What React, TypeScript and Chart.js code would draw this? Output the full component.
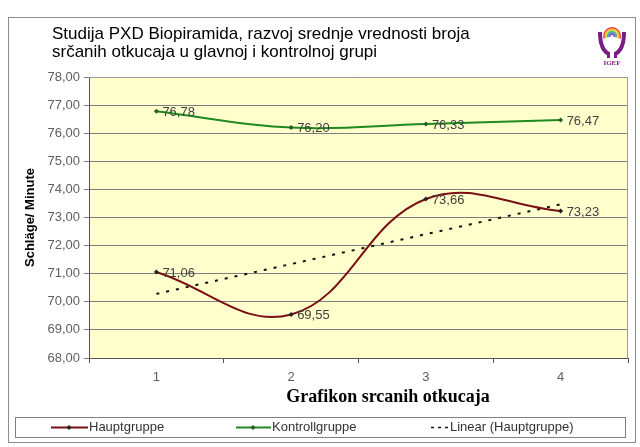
import React, { useEffect, useRef } from 'react';
import { Chart, registerables } from 'chart.js';

Chart.register(...registerables);

const categories = ['1', '2', '3', '4'];
const hauptgruppe = [71.06, 69.55, 73.66, 73.23];
const kontrollgruppe = [76.78, 76.2, 76.33, 76.47];
const yMin = 68;
const yMax = 78;
const yStep = 1;
const titleLines = [
  'Studija PXD Biopiramida, razvoj srednje vrednosti broja',
  'srčanih otkucaja u glavnoj i kontrolnoj grupi',
];
const xTitle = 'Grafikon srcanih otkucaja';
const yTitle = 'Schläge/ Minute';
const seriesNames = ['Hauptgruppe', 'Kontrollgruppe', 'Linear (Hauptgruppe)'];

const HAUPT_COLOR = '#7a0f14';
const KONTROLL_COLOR = '#1f8a1f';
const TREND_COLOR = '#111111';
const SANS = '"Liberation Sans", Arial, sans-serif';
const SERIF = '"Liberation Serif", "Times New Roman", serif';

function linearTrend(values: number[]): number[] {
  const n = values.length;
  const xs = values.map((_, i) => i + 1);
  const mx = xs.reduce((a, b) => a + b, 0) / n;
  const my = values.reduce((a, b) => a + b, 0) / n;
  let num = 0;
  let den = 0;
  xs.forEach((x, i) => {
    num += (x - mx) * (values[i] - my);
    den += (x - mx) * (x - mx);
  });
  const slope = num / den;
  const intercept = my - slope * mx;
  return xs.map((x) => intercept + slope * x);
}

const fmt = (v: number) => v.toFixed(2).replace('.', ',');

const decorPlugin = {
  id: 'decor',
  beforeDraw(chart: any) {
    const { ctx, chartArea: a, width, height } = chart;
    ctx.save();
    ctx.fillStyle = '#ffffff';
    ctx.fillRect(0, 0, width, height);
    ctx.fillStyle = '#ffffcc';
    ctx.fillRect(a.left, a.top, a.right - a.left, a.bottom - a.top);
    ctx.restore();
  },
  afterDraw(chart: any) {
    const { ctx, chartArea: a } = chart;
    ctx.save();
    // outer frame
    ctx.strokeStyle = '#8c8c8c';
    ctx.lineWidth = 1;
    ctx.strokeRect(8.5, 17.5, 627, 425);
    // plot frame (top/right light)
    ctx.strokeStyle = '#9a9a9a';
    ctx.beginPath();
    ctx.moveTo(a.left, a.top + 0.5);
    ctx.lineTo(a.right - 0.5, a.top + 0.5);
    ctx.lineTo(a.right - 0.5, a.bottom);
    ctx.stroke();

    // title
    ctx.fillStyle = '#000000';
    ctx.font = `17px ${SANS}`;
    ctx.textAlign = 'left';
    ctx.textBaseline = 'middle';
    ctx.fillText(titleLines[0], 52, 34);
    ctx.fillText(titleLines[1], 52, 52);

    // x title
    ctx.font = `bold 18px ${SERIF}`;
    ctx.textAlign = 'center';
    ctx.fillText(xTitle, 388, 397);

    // data labels
    ctx.font = `13px ${SANS}`;
    ctx.fillStyle = '#404040';
    ctx.textAlign = 'left';
    ctx.textBaseline = 'middle';
    [0, 1].forEach((di) => {
      const meta = chart.getDatasetMeta(di);
      const data = chart.data.datasets[di].data as number[];
      meta.data.forEach((el: any, i: number) => {
        ctx.fillText(fmt(data[i]), el.x + 6, el.y + 1);
      });
    });

    // legend
    ctx.strokeStyle = '#808080';
    ctx.lineWidth = 1;
    ctx.strokeRect(15.5, 417.5, 610, 20);
    const ly = 427.5;
    const drawDiamond = (x: number, y: number, c: string) => {
      ctx.fillStyle = c;
      ctx.beginPath();
      ctx.moveTo(x, y - 2.5);
      ctx.lineTo(x + 2.5, y);
      ctx.lineTo(x, y + 2.5);
      ctx.lineTo(x - 2.5, y);
      ctx.closePath();
      ctx.fill();
    };
    ctx.lineWidth = 2;
    ctx.strokeStyle = HAUPT_COLOR;
    ctx.beginPath();
    ctx.moveTo(51, ly);
    ctx.lineTo(88, ly);
    ctx.stroke();
    drawDiamond(69, ly, '#222');
    ctx.strokeStyle = KONTROLL_COLOR;
    ctx.beginPath();
    ctx.moveTo(236, ly);
    ctx.lineTo(271, ly);
    ctx.stroke();
    drawDiamond(253, ly, '#2a5a2a');
    ctx.strokeStyle = TREND_COLOR;
    ctx.lineWidth = 1.5;
    ctx.setLineDash([3, 4]);
    ctx.beginPath();
    ctx.moveTo(431, ly);
    ctx.lineTo(448, ly);
    ctx.stroke();
    ctx.setLineDash([]);
    ctx.font = `13px ${SANS}`;
    ctx.fillStyle = '#333333';
    ctx.textAlign = 'left';
    ctx.textBaseline = 'middle';
    ctx.fillText(seriesNames[0], 89, ly);
    ctx.fillText(seriesNames[1], 272, ly);
    ctx.fillText(seriesNames[2], 450, ly);

    // logo (simple approximation)
    const cx = 612;
    const cy = 36;
    const cols = ['#e8434b', '#f3a43a', '#f2e34a', '#6cc46a', '#4f9fe0', '#8a5cc9'];
    cols.forEach((c, i) => {
      ctx.strokeStyle = c;
      ctx.lineWidth = 2;
      ctx.beginPath();
      ctx.arc(cx, cy, 8 - i * 1.2, Math.PI * 0.9, Math.PI * 2.1);
      ctx.stroke();
    });
    ctx.strokeStyle = '#7b1d86';
    ctx.lineWidth = 4;
    ctx.beginPath();
    ctx.moveTo(600, 32);
    ctx.quadraticCurveTo(600, 50, 609, 54);
    ctx.moveTo(624, 32);
    ctx.quadraticCurveTo(624, 50, 615, 54);
    ctx.stroke();
    ctx.fillStyle = '#7b1d86';
    ctx.fillRect(607, 52, 3, 6);
    ctx.fillRect(614, 52, 3, 6);
    ctx.font = `bold 7px ${SERIF}`;
    ctx.textAlign = 'center';
    ctx.fillText('IGEF', 612, 63);
    ctx.restore();
  },
};

export default function App() {
  const ref = useRef<HTMLCanvasElement | null>(null);
  useEffect(() => {
    if (!ref.current) return;
    const trend = linearTrend(hauptgruppe);
    const chart = new Chart(ref.current, {
      type: 'line',
      data: {
        labels: categories,
        datasets: [
          {
            label: seriesNames[0],
            data: hauptgruppe,
            borderColor: HAUPT_COLOR,
            backgroundColor: '#222222',
            borderWidth: 2,
            tension: 0.4,
            pointStyle: 'rectRot',
            pointRadius: 2.5,
            pointBorderWidth: 0,
          },
          {
            label: seriesNames[1],
            data: kontrollgruppe,
            borderColor: KONTROLL_COLOR,
            backgroundColor: '#2a5a2a',
            borderWidth: 2,
            tension: 0.4,
            pointStyle: 'rectRot',
            pointRadius: 2.5,
            pointBorderWidth: 0,
          },
          {
            label: seriesNames[2],
            data: trend,
            borderColor: TREND_COLOR,
            borderWidth: 2,
            borderDash: [3, 7],
            tension: 0,
            pointRadius: 0,
          },
        ],
      },
      options: {
        animation: false,
        responsive: false,
        layout: { padding: { left: 8, top: 77, right: 12, bottom: 59 } },
        plugins: {
          legend: { display: false },
          title: { display: false },
          tooltip: { enabled: false },
        },
        scales: {
          x: {
            type: 'category',
            offset: true,
            grid: {
              display: true,
              offset: true,
              drawOnChartArea: false,
              drawTicks: true,
              tickLength: 5,
              color: '#555555',
            },
            border: { display: true, color: '#555555', width: 1 },
            ticks: {
              color: '#5f5f5f',
              font: { family: SANS, size: 13 },
              padding: 7,
            },
            afterFit: (s: any) => {
              s.height = 30;
            },
          },
          y: {
            min: yMin,
            max: yMax,
            ticks: {
              stepSize: yStep,
              color: '#5f5f5f',
              font: { family: SANS, size: 13 },
              padding: 4,
              callback: (v: any) => fmt(Number(v)),
            },
            grid: {
              color: '#7f7f7f',
              lineWidth: 1,
              tickLength: 5,
              drawTicks: true,
            },
            border: { display: true, color: '#555555', width: 1 },
            title: {
              display: true,
              text: yTitle,
              color: '#000000',
              font: { family: SANS, size: 13, weight: 'bold' },
              padding: { top: 15, bottom: 0 },
            },
            afterFit: (s: any) => {
              s.width = 81;
            },
          },
        },
      },
      plugins: [decorPlugin],
    });
    return () => chart.destroy();
  }, []);
  return (
    <div style={{ position: 'fixed', left: 0, top: 0, width: 640, height: 447 }}>
      <canvas ref={ref} width={640} height={447} style={{ display: 'block' }} />
    </div>
  );
}
